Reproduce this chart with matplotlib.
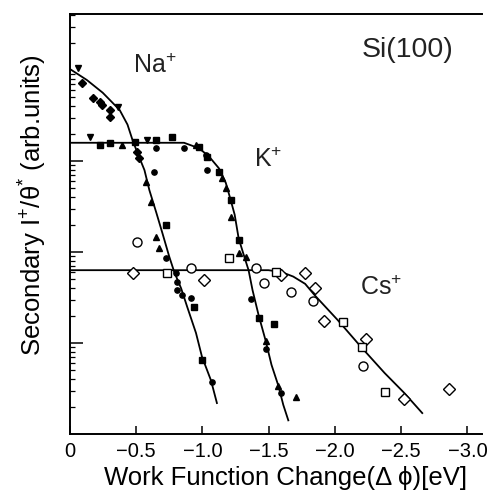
import numpy as np
import matplotlib
matplotlib.use("Agg")
import matplotlib.pyplot as plt
from matplotlib.ticker import FixedLocator, FixedFormatter, NullFormatter

plt.rcParams['font.family'] = ['Liberation Sans', 'DejaVu Sans']
plt.rcParams['mathtext.fontset'] = 'custom'
plt.rcParams['mathtext.rm'] = 'Liberation Sans'
plt.rcParams['mathtext.it'] = 'Liberation Sans:italic'
plt.rcParams['mathtext.bf'] = 'Liberation Sans:bold'

# ---- data: x = work function change (eV), y = log10(intensity, arb. units) ----
x_ticks = [0, -0.5, -1.0, -1.5, -2.0, -2.5, -3.0]
x_tick_labels = ["0", "\u22120.5", "\u22121.0", "\u22121.5", "\u22122.0", "\u22122.5", "\u22123.0"]

# fitted curves
na_curve_x = [0, -0.127, -0.247, -0.375, -0.434, -0.472, -0.509, -0.562, -0.599, -0.652,
              -0.697, -0.749, -0.787, -0.839, -0.884, -0.951, -0.996, -1.064, -1.109]
na_curve_y = [4.01, 3.89, 3.75, 3.56, 3.40, 3.23, 3.09, 2.90, 2.68, 2.43,
              2.21, 1.95, 1.78, 1.60, 1.40, 1.11, 0.85, 0.59, 0.34]
k_curve_x = [0, -0.861, -0.974, -1.049, -1.124, -1.176, -1.213, -1.243, -1.273, -1.311,
             -1.348, -1.378, -1.423, -1.476, -1.521, -1.573, -1.610, -1.648]
k_curve_y = [3.20, 3.20, 3.14, 3.05, 2.92, 2.76, 2.57, 2.41, 2.15, 1.97,
             1.80, 1.58, 1.31, 1.03, 0.76, 0.53, 0.32, 0.15]
cs_curve_x = [0, -1.498, -1.596, -1.685, -1.775, -1.850, -2.022, -2.195, -2.375, -2.524, -2.659]
cs_curve_y = [1.80, 1.80, 1.78, 1.73, 1.65, 1.52, 1.25, 0.96, 0.67, 0.45, 0.23]

# Na+ data points (filled)
na_diam_x = [-0.090, -0.172, -0.225, -0.240, -0.300, -0.300, -0.509, -0.524]
na_diam_y = [3.86, 3.69, 3.65, 3.62, 3.56, 3.48, 3.10, 3.03]
na_dtri_x = [-0.060, -0.360]
na_dtri_y = [4.02, 3.59]
na_tri_x = [-0.577, -0.614, -0.652, -0.674]
na_tri_y = [2.77, 2.55, 2.16, 2.04]
na_sq_x = [-0.727, -0.936, -0.996]
na_sq_y = [2.30, 1.40, 0.81]
na_dot_x = [-0.637, -0.727, -0.801, -0.809, -0.809, -0.846, -0.914, -1.071]
na_dot_y = [2.88, 1.93, 1.77, 1.67, 1.58, 1.53, 1.49, 0.57]

# K+ data points (filled)
k_sq_x = [-0.225, -0.300, -0.487, -0.652, -0.772, -0.974, -1.034, -1.124, -1.213, -1.273, -1.423, -1.543]
k_sq_y = [3.18, 3.20, 3.21, 3.23, 3.26, 3.15, 3.04, 2.88, 2.57, 2.13, 1.27, 1.21]
k_tri_x = [-0.390, -0.951, -1.146, -1.176, -1.213, -1.326, -1.273, -1.476, -1.573, -1.708]
k_tri_y = [3.18, 3.18, 2.81, 2.70, 2.38, 1.95, 1.99, 1.02, 0.53, 0.41]
k_dtri_x = [-0.150, -0.584]
k_dtri_y = [3.26, 3.23]
k_dot_x = [-0.652, -0.861, -1.026, -1.034, -1.363, -1.483, -1.596]
k_dot_y = [3.14, 3.14, 3.07, 2.90, 1.48, 0.93, 0.45]

# Cs+ data points (open)
cs_circ_x = [-0.509, -0.914, -1.401, -1.461, -1.670, -1.835, -2.210]
cs_circ_y = [2.11, 1.82, 1.82, 1.66, 1.56, 1.46, 0.75]
cs_diam_x = [-0.472, -1.011, -1.596, -1.775, -1.850, -1.918, -2.232, -2.524, -2.861]
cs_diam_y = [1.77, 1.69, 1.75, 1.77, 1.60, 1.24, 1.04, 0.38, 0.49]
cs_sq_x = [-0.734, -1.199, -1.558, -2.060, -2.202, -2.375]
cs_sq_y = [1.77, 1.93, 1.78, 1.23, 0.96, 0.46]

ion_labels = ["Na$^{+}$", "K$^{+}$", "Cs$^{+}$"]
ion_label_x = [-0.472, -1.386, -2.187]
ion_label_y = [3.97, 2.93, 1.53]

# ---- figure ----
fig = plt.figure(figsize=(4.89, 4.92), dpi=100)
ax = fig.add_axes([70/489, 1 - 434/492, 412/489, 420/492])
ax.set_yscale('log')

def Y(v):
    return 10 ** np.asarray(v)

lw = 1.3
for cx, cy in [(na_curve_x, na_curve_y), (k_curve_x, k_curve_y), (cs_curve_x, cs_curve_y)]:
    ax.plot(cx, Y(cy), color='black', lw=lw, zorder=2)

fk = dict(color='black', linestyle='none', zorder=3)
ax.plot(na_diam_x, Y(na_diam_y), marker='D', ms=4.5, **fk)
ax.plot(na_dtri_x, Y(na_dtri_y), marker='v', ms=5.0, **fk)
ax.plot(na_tri_x, Y(na_tri_y), marker='^', ms=4.5, **fk)
ax.plot(na_sq_x, Y(na_sq_y), marker='s', ms=4.2, **fk)
ax.plot(na_dot_x, Y(na_dot_y), marker='o', ms=3.8, **fk)

ax.plot(k_sq_x, Y(k_sq_y), marker='s', ms=4.2, **fk)
ax.plot(k_tri_x, Y(k_tri_y), marker='^', ms=4.5, **fk)
ax.plot(k_dtri_x, Y(k_dtri_y), marker='v', ms=5.0, **fk)
ax.plot(k_dot_x, Y(k_dot_y), marker='o', ms=3.8, **fk)

ok = dict(color='black', mfc='white', mec='black', mew=1.0, linestyle='none', zorder=4)
ax.plot(cs_circ_x, Y(cs_circ_y), marker='o', ms=6.5, **ok)
ax.plot(cs_diam_x, Y(cs_diam_y), marker='D', ms=6.0, **ok)
ax.plot(cs_sq_x, Y(cs_sq_y), marker='s', ms=6.0, **ok)

for t, tx, ty in zip(ion_labels, ion_label_x, ion_label_y):
    ax.text(tx, Y(ty), t, fontsize=18, ha='left', va='baseline', color='#222222')
ax.text(0.709, 0.898, "Si(100)", transform=ax.transAxes, fontsize=20.5,
        ha='left', va='baseline', color='#222222')

ax.set_xlim(0, -3.11)
ax.set_ylim(1, 10 ** 4.615)
ax.xaxis.set_major_locator(FixedLocator(x_ticks))
ax.xaxis.set_major_formatter(FixedFormatter(x_tick_labels))
ax.yaxis.set_major_locator(FixedLocator([10, 100, 1000]))
ax.yaxis.set_major_formatter(NullFormatter())
ax.yaxis.set_minor_formatter(NullFormatter())

ax.tick_params(axis='x', direction='in', length=6, width=1.1, labelsize=14.5, pad=6, colors='black')
ax.tick_params(axis='y', which='major', direction='in', length=9, width=1.1)
ax.tick_params(axis='y', which='minor', direction='in', length=3.5, width=0.9)
for s in ['left', 'bottom', 'top']:
    ax.spines[s].set_linewidth(1.4)
ax.spines['right'].set_visible(False)

ax.set_xlabel("Work Function Change(\u0394 \u03d5)[eV]", fontsize=18.5)
ax.xaxis.set_label_coords((286 - 70) / 412, -(466 - 434) / 420)
ax.set_ylabel("Secondary I$^{+}$/\u03b8$^{*}$ (arb.units)", fontsize=18.5)
ax.yaxis.set_label_coords(-21/412, (434 - 205) / 420)

fig.savefig("out.png", dpi=100)
